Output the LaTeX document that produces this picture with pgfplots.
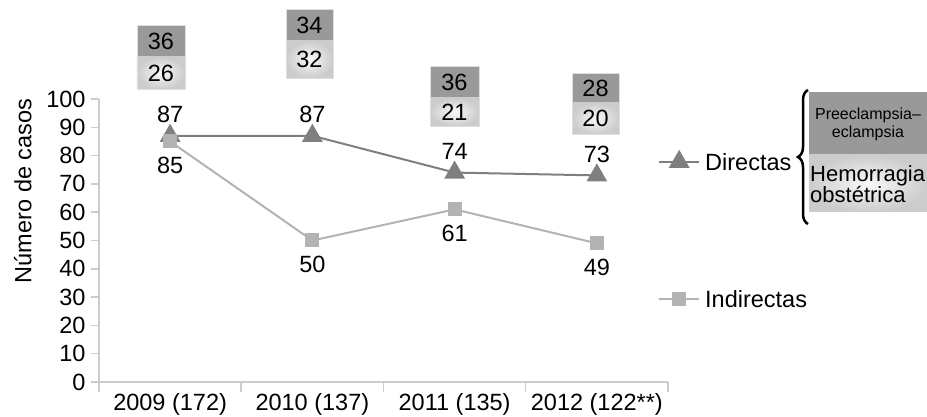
\documentclass[border=0pt]{standalone}
\usepackage{pgfplots}
\pgfplotsset{compat=1.18}
\usepackage{fontspec}
\setmainfont{Liberation Sans}
\usetikzlibrary{decorations.pathreplacing}

\definecolor{dirc}{HTML}{7F7F7F}
\definecolor{indc}{HTML}{B3B3B3}
\definecolor{boxdark}{HTML}{999999}
\definecolor{axc}{HTML}{CCCCCC}
\newcommand\bigf{\fontsize{23.5}{27}\selectfont}

\begin{document}
\begin{tikzpicture}[x=1pt,y=1pt]
\useasboundingbox (-99,-35) rectangle (828,382);
\begin{axis}[
    scale only axis,
    width=569pt, height=283pt,
    xmin=-0.5, xmax=3.5, ymin=0, ymax=100,
    axis x line*=bottom, axis y line*=left,
    axis line style={axc, line width=1.5pt, -},
    tick align=outside,
    xtick={0,1,2,3},
    xticklabels={2009 (172),2010 (137),2011 (135),2012 (122**)},
    major x tick style={draw=none},
    minor xtick={-0.5,0.5,1.5,2.5,3.5},
    minor tick length=10pt,
    major tick length=8pt,
    ytick={0,10,...,100},
    tick style={axc, line width=1.5pt},
    /pgf/number format/assume math mode=true,
    ticklabel style={font=\bigf},
    yticklabel style={xshift=-2pt},
    ylabel={Número de casos},
    ylabel style={font=\bigf, at={(axis description cs:-0.134,0.675)}, anchor=center},
    clip=false,
    legend image code/.code={
        \draw[#1, mark repeat=2, mark phase=2] plot coordinates {(0pt,0pt) (20pt,0pt) (40pt,0pt)};
    },
    legend style={draw=none, fill=none, inner sep=0pt, font=\bigf,
        at={(0.9824,0.814)}, anchor=north west,
        nodes={inner sep=0pt, text depth=0pt},
        cells={anchor=west}, row sep=120pt, column sep=5pt},
]
\addplot[dirc, line width=2pt, mark=triangle*, mark size=10pt,
    mark options={draw=none, fill=dirc},
    nodes near coords,
    every node near coord/.append style={black, font=\bigf, anchor=center, yshift=21pt}]
    coordinates {(0,87) (1,87) (2,74) (3,73)};
\addplot[indc, line width=2pt, mark=square*, mark size=6pt,
    mark options={draw=none, fill=indc},
    nodes near coords,
    every node near coord/.append style={black, font=\bigf, anchor=center, yshift=-24pt}]
    coordinates {(0,85) (1,50) (2,61) (3,49)};
\legend{Directas, Indirectas}
\end{axis}

% boxes above the points: Preeclampsia-eclampsia (dark) and Hemorragia obstetrica (light)
\foreach \xa/\xb/\ya/\yb/\yc/\va/\vb in {38/86/357/325/293/36/26, 187/234/373/341/304/34/32, 331/380/316/284/256/36/21, 473/520/309/279/248/28/20} {
    \fill[boxdark] (\xa,\yb) rectangle (\xb,\ya);
    \shade[inner color=gray!5, outer color=gray!40] (\xa,\yc) rectangle (\xb,\yb);
    \draw[gray!25, line width=0.6pt] (\xa,\yc) rectangle (\xb,\ya);
    \node[font=\bigf] at ({(\xa+\xb)/2},{(\ya+\yb)/2}) {\va};
    \node[font=\bigf] at ({(\xa+\xb)/2},{(\yb+\yc)/2}) {\vb};
}

% key on the right
\fill[boxdark] (710,227) rectangle (828,290);
\shade[inner color=gray!5, outer color=gray!40] (710,170) rectangle (828,227);
\node[font=\fontsize{16}{18}\selectfont, align=center] at (769,258) {Preeclampsia–\\eclampsia};
\node[font=\fontsize{22}{21}\selectfont, align=left, anchor=west, inner sep=1pt] at (710,198) {Hemorragia\\obstétrica};
\draw[decorate, decoration={brace, amplitude=10pt}, line width=2.5pt] (709,158) -- (709,292);
\end{tikzpicture}
\end{document}
